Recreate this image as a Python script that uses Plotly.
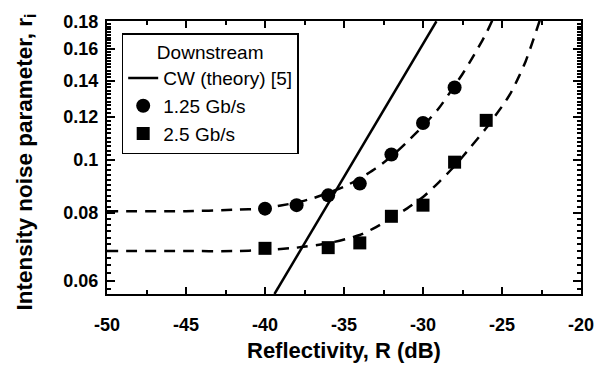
import plotly.graph_objects as go
import numpy as np

# ---------------- data ----------------
# measured points, 1.25 Gb/s (circles)
r125_R = [-40, -38, -36, -34, -32, -30, -28]
r125_r = [0.0814, 0.0826, 0.0861, 0.0905, 0.1024, 0.117, 0.136]

# measured points, 2.5 Gb/s (squares)
r25_R = [-40, -36, -34, -32, -30, -28, -26]
r25_r = [0.0688, 0.0690, 0.0704, 0.0788, 0.0826, 0.0991, 0.1183]

# dashed fit curve through 1.25 Gb/s points
fit125_R = [-50, -45, -42, -40, -39, -38, -37, -36, -35, -34, -33, -32, -31,
            -30, -29, -28, -27.5, -27, -26.5, -26, -25.6]
fit125_r = [0.0805, 0.0805, 0.081, 0.0815, 0.0825, 0.0835, 0.085, 0.087, 0.0893,
            0.0925, 0.0965, 0.1015, 0.108, 0.1155, 0.1245, 0.137, 0.144, 0.152,
            0.161, 0.171, 0.181]

# dashed fit curve through 2.5 Gb/s points
fit25_R = [-50, -45, -42, -40, -38, -36, -34, -33, -32, -31, -30, -29, -28,
           -27, -26, -25, -24.5, -24, -23.5, -23, -22.6]
fit25_r = [0.068, 0.068, 0.068, 0.0683, 0.069, 0.0703, 0.0728, 0.0752, 0.0782,
           0.0815, 0.0855, 0.091, 0.0975, 0.1055, 0.1145, 0.1255, 0.132, 0.141,
           0.152, 0.167, 0.181]

# CW theory line (straight on the log axis)
cw_R = [-39.4, -29.15]
cw_r = [0.0567, 0.18]

# axis ticks
x_ticks = [-50, -45, -40, -35, -30, -25, -20]
y_ticks = [0.06, 0.08, 0.1, 0.12, 0.14, 0.16, 0.18]
y_tick_labels = ["0.06", "0.08", "0.1", "0.12", "0.14", "0.16", "0.18"]

legend_title = "Downstream"
names = ["CW (theory) [5]", "1.25 Gb/s", "2.5 Gb/s"]

# ---------------- figure ----------------
FONT = "Liberation Sans"
fig = go.Figure()

fig.add_trace(go.Scatter(x=fit125_R, y=fit125_r, mode="lines", showlegend=False,
                         line=dict(color="black", width=2.5, dash="11px,8px", shape="spline", smoothing=0.6),
                         hoverinfo="skip"))
fig.add_trace(go.Scatter(x=fit25_R, y=fit25_r, mode="lines", showlegend=False,
                         line=dict(color="black", width=2.5, dash="11px,8px", shape="spline", smoothing=0.6),
                         hoverinfo="skip"))
fig.add_trace(go.Scatter(x=cw_R, y=cw_r, mode="lines", name=names[0],
                         line=dict(color="black", width=2.5)))
fig.add_trace(go.Scatter(x=r125_R, y=r125_r, mode="markers", name=names[1],
                         marker=dict(symbol="circle", size=14, color="black")))
fig.add_trace(go.Scatter(x=r25_R, y=r25_r, mode="markers", name=names[2],
                         marker=dict(symbol="square", size=13, color="black")))

minor_y = [round(v, 3) for v in np.arange(0.058, 0.1801, 0.002)]

fig.update_xaxes(range=[-50, -20], tickvals=x_ticks, ticktext=[str(v) for v in x_ticks],
                 ticks="inside", ticklen=7, tickwidth=2, tickcolor="black",
                 showline=True, linewidth=2, linecolor="black", mirror="ticks",
                 showgrid=False, zeroline=False,
                 tickfont=dict(family=FONT, size=18, color="black", weight="bold"),
                 ticklabelstandoff=13,
                 minor=dict(dtick=2.5, tick0=-50, ticks="inside", ticklen=4, tickwidth=2,
                            tickcolor="black", showgrid=False))
fig.update_yaxes(type="log", range=[np.log10(0.0567), np.log10(0.1802)],
                 tickvals=y_ticks, ticktext=y_tick_labels,
                 ticks="inside", ticklen=8, tickwidth=2, tickcolor="black",
                 showline=True, linewidth=2, linecolor="black", mirror="ticks",
                 showgrid=False, zeroline=False,
                 tickfont=dict(family=FONT, size=18, color="black", weight="bold"),
                 ticklabelstandoff=3,
                 minor=dict(tickvals=minor_y, ticks="inside", ticklen=4, tickwidth=1.5,
                            tickcolor="black", showgrid=False))

fig.add_annotation(text="Reflectivity, R (dB)", xref="paper", yref="paper", x=0.5, y=0,
                   xanchor="center", yanchor="middle", yshift=-56, showarrow=False,
                   font=dict(family=FONT, size=22, color="black", weight="bold"))
fig.add_annotation(text="Intensity noise parameter, r<sub>i</sub>", xref="paper", yref="paper",
                   x=0, y=0.5, xanchor="center", yanchor="middle", xshift=-82, yshift=-5,
                   textangle=-90, showarrow=False,
                   font=dict(family=FONT, size=22.5, color="black", weight="bold"))

# page body has an 8 px margin: shrink the figure so the plot area lands where the reference has it
fig.update_layout(
    width=608, height=360,
    margin=dict(l=99, r=35, t=13, b=74, autoexpand=False),
    paper_bgcolor="white", plot_bgcolor="white",
    showlegend=True,
    legend=dict(x=0.031, y=0.956, xanchor="left", yanchor="top",
                bgcolor="white", bordercolor="black", borderwidth=1.5,
                font=dict(family=FONT, size=19, color="black"),
                title=dict(text=legend_title, side="top center",
                           font=dict(family=FONT, size=19, color="black")),
                tracegroupgap=0, itemwidth=30),
)

fig.write_html("out.html")
